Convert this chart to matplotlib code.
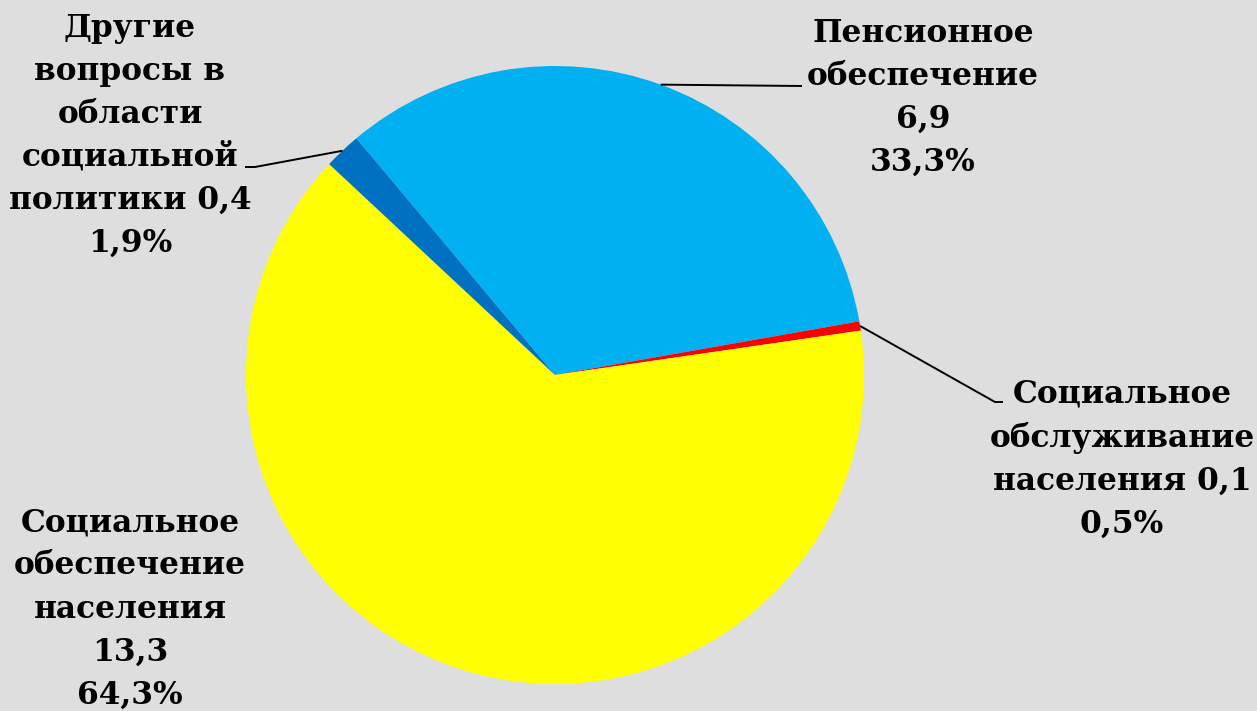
import matplotlib
matplotlib.use("Agg")
import matplotlib.pyplot as plt
import numpy as np

# Data
categories = ["Пенсионное\nобеспечение", "Социальное\nобслуживание\nнаселения", "Социальное\nобеспечение\nнаселения", "Другие\nвопросы в\nобласти\nсоциальной\nполитики"]
values = [6.9, 0.1, 13.3, 0.4]
colors = ["#00B0F0", "#FF0000", "#FFFF00", "#0070C0"]

W, H = 1257, 711
fig = plt.figure(figsize=(W / 100, H / 100), dpi=100)
bg = "#DEDEDE"
fig.patch.set_facecolor(bg)
ax = fig.add_axes([0, 0, 1, 1])
ax.set_facecolor(bg)

cx, cy, R = 555, H - 375, 309
wedges, _ = ax.pie(values, colors=colors, startangle=130, counterclock=False,
                   center=(cx, cy), radius=R, frame=True,
                   wedgeprops=dict(linewidth=0))
ax.set_xlim(0, W)
ax.set_ylim(0, H)
ax.axis("off")

total = sum(values)
def fmt(v):
    return f"{v:.1f}".replace(".", ",")

def pct(v):
    return f"{v / total * 100:.1f}%".replace(".", ",")

# label texts
texts = [
    f"{categories[0]}\n{fmt(values[0])}\n{pct(values[0])}",
    f"{categories[1]} {fmt(values[1])}\n{pct(values[1])}",
    f"{categories[2]}\n{fmt(values[2])}\n{pct(values[2])}",
    f"{categories[3]} {fmt(values[3])}\n{pct(values[3])}",
]
# label centers (pixels, top-down y) and leader line elbow/end
label_pos = [(923, 98), (1122, 459), (130, 609), (130, 136)]
leaders = [
    [(802, 86), (802, 86)],
    [(995, 402), (1003, 402)],
    None,
    [(255, 167), (245, 167)],
]

fontkw = dict(family="DejaVu Serif", fontweight="bold", fontsize=22.5, color="black")
for i, (w, t) in enumerate(zip(wedges, texts)):
    x, y = label_pos[i]
    ax.text(x, H - y, t, ha="center", va="center", linespacing=1.5, **fontkw)
    if leaders[i] is not None:
        ang = np.deg2rad((w.theta1 + w.theta2) / 2)
        sx, sy = cx + R * np.cos(ang), cy + R * np.sin(ang)
        pts = [(sx, sy)] + [(px, H - py) for px, py in leaders[i]]
        xs, ys = zip(*pts)
        ax.plot(xs, ys, color="black", lw=1.4, solid_capstyle="butt")

fig.savefig("out.png", dpi=100, facecolor=bg)
